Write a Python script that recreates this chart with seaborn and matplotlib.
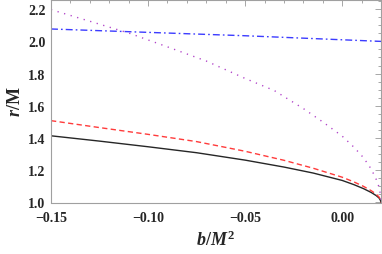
import numpy as np
import pandas as pd
import matplotlib
matplotlib.use("Agg")
import matplotlib.pyplot as plt
import seaborn as sns

# Data
b_black = [-0.15, -0.125, -0.10, -0.075, -0.05, -0.03, -0.015, 0.0, 0.006, 0.011, 0.015, 0.0175, 0.019, 0.0197, 0.02]
r_black = [1.414, 1.381, 1.346, 1.309, 1.263, 1.220, 1.183, 1.137, 1.111, 1.086, 1.062, 1.043, 1.028, 1.014, 1.0]

b_red = [-0.15, -0.125, -0.10, -0.075, -0.05, -0.03, -0.015, 0.0, 0.006, 0.011, 0.015, 0.0175, 0.019, 0.0197, 0.02]
r_red = [1.508, 1.465, 1.423, 1.378, 1.318, 1.262, 1.213, 1.157, 1.128, 1.100, 1.073, 1.052, 1.034, 1.018, 1.0]

b_purple = [-0.15, -0.13, -0.11, -0.09, -0.07, -0.05, -0.035, -0.02, -0.01, 0.0, 0.006, 0.011, 0.015, 0.018, 0.019, 0.0197, 0.02]
r_purple = [2.197, 2.125, 2.052, 1.966, 1.878, 1.770, 1.695, 1.583, 1.500, 1.412, 1.344, 1.278, 1.207, 1.132, 1.094, 1.050, 1.0]

b_blue = [-0.15, -0.10, -0.05, 0.0, 0.02]
r_blue = [2.077, 2.056, 2.035, 2.010, 2.000]

x_ticks = [-0.15, -0.10, -0.05, 0.00]
x_ticklabels = ["\u22120.15", "\u22120.10", "\u22120.05", "0.00"]
y_ticks = [1.0, 1.2, 1.4, 1.6, 1.8, 2.0, 2.2]
y_ticklabels = ["1.0", "1.2", "1.4", "1.6", "1.8", "2.0", "2.2"]

sns.set_style("white")
plt.rcParams["font.family"] = ["Liberation Serif", "DejaVu Serif"]
plt.rcParams["mathtext.fontset"] = "custom"
plt.rcParams["mathtext.rm"] = "Liberation Serif:bold"
plt.rcParams["mathtext.it"] = "Liberation Serif:bold:italic"
plt.rcParams["mathtext.bf"] = "Liberation Serif:bold"

fig = plt.figure(figsize=(3.82, 2.55), dpi=100)
ax = fig.add_axes([51 / 382, (255 - 203.5) / 255, (381 - 51) / 382, 203.0 / 255])

series = [
    (b_black, r_black, "#262626", None),
    (b_red, r_red, "#ff3b3b", (3.8, 2.4)),
    (b_purple, r_purple, "#b040c8", (0.9, 4.0)),
    (b_blue, r_blue, "#3c3cff", (5.0, 2.2, 1.2, 2.2)),
]
for bx, ry, col, dash in series:
    df = pd.DataFrame({"b": bx, "r": ry})
    sns.lineplot(data=df, x="b", y="r", ax=ax, color=col, linewidth=1.0,
                 estimator=None, sort=False)
    line = ax.lines[-1]
    if dash is not None:
        line.set_dashes(dash)

ax.set_xlim(-0.15, 0.02)
ax.set_ylim(1.0, 2.26)
ax.set_xticks(x_ticks)
ax.set_xticklabels(x_ticklabels, fontweight="bold", fontsize=10)
ax.set_yticks(y_ticks)
ax.set_yticklabels(y_ticklabels, fontweight="bold", fontsize=10)
ax.set_xticks(np.arange(-0.15, 0.0201, 0.01), minor=True)
ax.set_yticks(np.arange(1.0, 2.26, 0.05), minor=True)
ax.tick_params(which="both", direction="in", top=True, right=True,
               color="#999999", width=0.6)
ax.tick_params(which="major", length=4)
ax.tick_params(axis="x", which="major", pad=6)
ax.tick_params(axis="y", which="major", pad=4)
ax.tick_params(which="minor", length=2)
for s in ax.spines.values():
    s.set_color("#a0a0a0")
    s.set_linewidth(0.8)

ax.set_xlabel(r"$b/M^{\mathbf{2}}$", fontsize=13, labelpad=4)
ax.set_ylabel(r"$r/\mathrm{M}$", fontsize=13, labelpad=3)

fig.savefig("out.png", dpi=100)
